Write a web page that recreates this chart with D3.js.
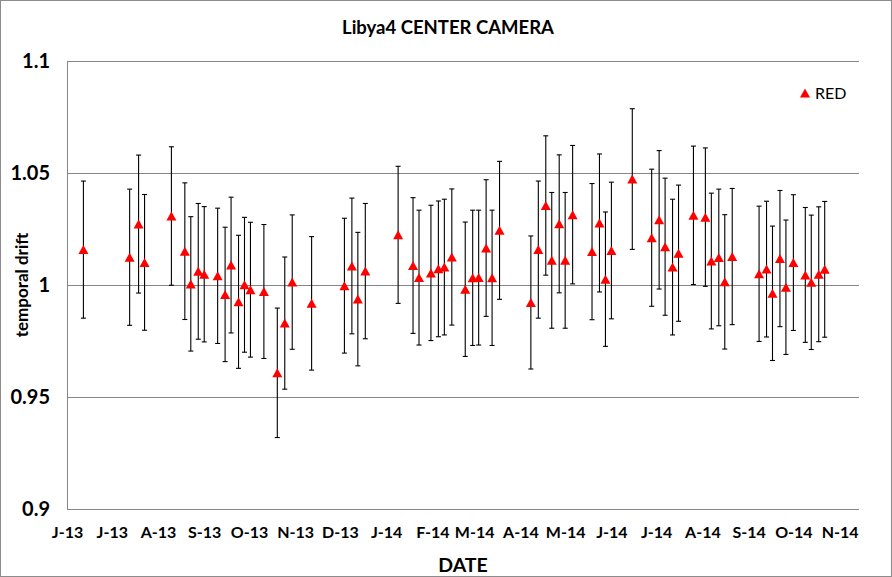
<!DOCTYPE html>
<html>
<head>
<meta charset="utf-8">
<script src="https://cdn.jsdelivr.net/npm/d3@7"></script>
<style>
  html, body { margin: 0; padding: 0; background: #fff; }
  svg { display: block; font-family: Lato, "Open Sans", sans-serif; }
</style>
</head>
<body>
<svg id="chart" width="892" height="577"></svg>
<script>
// ---- data ----
const dates = ["2013-06-12","2013-07-13","2013-07-19","2013-07-23","2013-08-10","2013-08-19","2013-08-23","2013-08-28","2013-09-01","2013-09-10","2013-09-15","2013-09-19","2013-09-24","2013-09-28","2013-10-02","2013-10-11","2013-10-20","2013-10-25","2013-10-30","2013-11-12","2013-12-04","2013-12-09","2013-12-13","2013-12-18","2014-01-09","2014-01-19","2014-01-23","2014-01-31","2014-02-05","2014-02-09","2014-02-14","2014-02-23","2014-02-28","2014-03-04","2014-03-09","2014-03-13","2014-03-18","2014-04-08","2014-04-13","2014-04-18","2014-04-22","2014-04-27","2014-05-01","2014-05-06","2014-05-19","2014-05-24","2014-05-28","2014-06-01","2014-06-15","2014-06-28","2014-07-03","2014-07-07","2014-07-12","2014-07-16","2014-07-26","2014-08-03","2014-08-07","2014-08-12","2014-08-16","2014-08-21","2014-09-08","2014-09-13","2014-09-17","2014-09-22","2014-09-26","2014-10-01","2014-10-09","2014-10-13","2014-10-18","2014-10-22"];
const redValues = [1.0158,1.0124,1.0272,1.0101,1.0308,1.0151,1.0005,1.0061,1.0048,1.0041,0.9958,1.0089,0.9925,1.0001,0.9979,0.9971,0.9608,0.9830,1.0013,0.9918,0.9997,1.0085,0.9937,1.0062,1.0224,1.0087,1.0033,1.0054,1.0072,1.0080,1.0125,0.9981,1.0032,1.0033,1.0165,1.0032,1.0244,0.9922,1.0158,1.0355,1.0110,1.0273,1.0110,1.0314,1.0149,1.0277,1.0026,1.0154,1.0473,1.0211,1.0291,1.0171,1.0080,1.0142,1.0311,1.0303,1.0107,1.0123,1.0014,1.0127,1.0050,1.0071,0.9963,1.0118,0.9990,1.0100,1.0045,1.0012,1.0048,1.0070];
const redErrors = [0.0306,0.0304,0.0308,0.0303,0.0309,0.0305,0.0300,0.0303,0.0302,0.0302,0.0300,0.0303,0.0297,0.0301,0.0301,0.0299,0.0289,0.0295,0.0300,0.0298,0.0301,0.0303,0.0298,0.0302,0.0306,0.0303,0.0301,0.0302,0.0303,0.0303,0.0304,0.0300,0.0302,0.0301,0.0305,0.0302,0.0308,0.0297,0.0306,0.0311,0.0303,0.0308,0.0303,0.0309,0.0304,0.0308,0.0300,0.0305,0.0314,0.0306,0.0309,0.0306,0.0303,0.0304,0.0309,0.0309,0.0303,0.0305,0.0300,0.0304,0.0302,0.0303,0.0300,0.0304,0.0300,0.0303,0.0301,0.0300,0.0301,0.0303];
const monthTicks = ["2013-06-01","2013-07-01","2013-08-01","2013-09-01","2013-10-01","2013-11-01","2013-12-01","2014-01-01","2014-02-01","2014-03-01","2014-04-01","2014-05-01","2014-06-01","2014-07-01","2014-08-01","2014-09-01","2014-10-01","2014-11-01"];
const monthLabels = ["J-13","J-13","A-13","S-13","O-13","N-13","D-13","J-14","F-14","M-14","A-14","M-14","J-14","J-14","A-14","S-14","O-14","N-14"];
const yTicks = [0.9, 0.95, 1, 1.05, 1.1];
const yTickLabels = ["0.9", "0.95", "1", "1.05", "1.1"];
const xDomain = ["2013-06-01", "2014-11-14"];
const seriesName = "RED";

// ---- layout ----
const W = 892, H = 577;
const plot = { left: 67, right: 859, top: 61, bottom: 509 };
const parse = d3.utcParse("%Y-%m-%d");

const svg = d3.select("#chart");
svg.append("rect").attr("x", 0.5).attr("y", 0.5).attr("width", W - 1).attr("height", H - 1)
  .attr("fill", "#fff").attr("stroke", "#8c8c8c").attr("stroke-width", 1);

const x = d3.scaleUtc().domain(xDomain.map(parse)).range([plot.left, plot.right]);
const y = d3.scaleLinear().domain([0.9, 1.1]).range([plot.bottom, plot.top]);

// gridlines
svg.append("g").selectAll("line").data(yTicks).join("line")
  .attr("x1", plot.left).attr("x2", plot.right)
  .attr("y1", d => Math.round(y(d)) + 0.5).attr("y2", d => Math.round(y(d)) + 0.5)
  .attr("stroke", "#868686").attr("stroke-width", 1);
// left axis line
svg.append("line").attr("x1", plot.left + 0.5).attr("x2", plot.left + 0.5)
  .attr("y1", plot.top).attr("y2", plot.bottom + 1)
  .attr("stroke", "#868686").attr("stroke-width", 1);

// y axis labels
const yAxis = d3.axisLeft(y).tickValues(yTicks).tickSize(0).tickPadding(0)
  .tickFormat((d, i) => yTickLabels[i]);
const gy = svg.append("g").attr("transform", `translate(${plot.left - 17},0)`).call(yAxis);
gy.select(".domain").remove();
gy.selectAll("text").attr("font-size", 20).attr("font-weight", "bold")
  .attr("fill", "#000").attr("font-family", "Lato, sans-serif");

// x axis labels
const xAxis = d3.axisBottom(x).tickValues(monthTicks.map(parse)).tickSize(0).tickPadding(0)
  .tickFormat((d, i) => monthLabels[i]);
const gx = svg.append("g").attr("transform", `translate(0,${plot.bottom + 18})`).call(xAxis);
gx.select(".domain").remove();
gx.selectAll("text").attr("font-size", 16).attr("font-weight", "bold")
  .attr("fill", "#000").attr("font-family", "Lato, sans-serif");

// data
const data = dates.map((d, i) => ({ date: parse(d), v: redValues[i], e: redErrors[i] }));

const eb = svg.append("g").attr("class", "errorbars");
const capW = 2.5;
data.forEach(d => {
  const cx = x(d.date), yt = y(d.v + d.e), yb = y(d.v - d.e);
  eb.append("line").attr("x1", cx).attr("x2", cx).attr("y1", yt).attr("y2", yb)
    .attr("stroke", "#000").attr("stroke-width", 1.1);
  eb.append("line").attr("x1", cx - capW).attr("x2", cx + capW).attr("y1", yt).attr("y2", yt)
    .attr("stroke", "#000").attr("stroke-width", 1.1);
  eb.append("line").attr("x1", cx - capW).attr("x2", cx + capW).attr("y1", yb).attr("y2", yb)
    .attr("stroke", "#000").attr("stroke-width", 1.1);
});

const tri = (w, h) => `M0,${-h / 2}L${w / 2},${h / 2}L${-w / 2},${h / 2}Z`;
svg.append("g").selectAll("path").data(data).join("path")
  .attr("d", tri(10, 9))
  .attr("transform", d => `translate(${x(d.date)},${y(d.v)})`)
  .attr("fill", "#ff0000");

// legend
svg.append("path").attr("d", tri(10, 9)).attr("transform", "translate(805,93)").attr("fill", "#ff0000");
svg.append("text").attr("x", 815).attr("y", 99).text(seriesName)
  .attr("font-size", 16).attr("fill", "#000").attr("font-family", "Lato, sans-serif");

// title & axis titles
svg.append("text").attr("x", 448).attr("y", 34).attr("text-anchor", "middle")
  .attr("font-size", 18.5).attr("font-weight", "bold").text("Libya4 CENTER CAMERA");
svg.append("text").attr("x", 463).attr("y", 572).attr("text-anchor", "middle")
  .attr("font-size", 19.5).attr("font-weight", "bold").text("DATE");
svg.append("text").attr("transform", "translate(28,285) rotate(-90)").attr("text-anchor", "middle")
  .attr("font-size", 17).attr("font-weight", "bold").text("temporal drift");
</script>
</body>
</html>
